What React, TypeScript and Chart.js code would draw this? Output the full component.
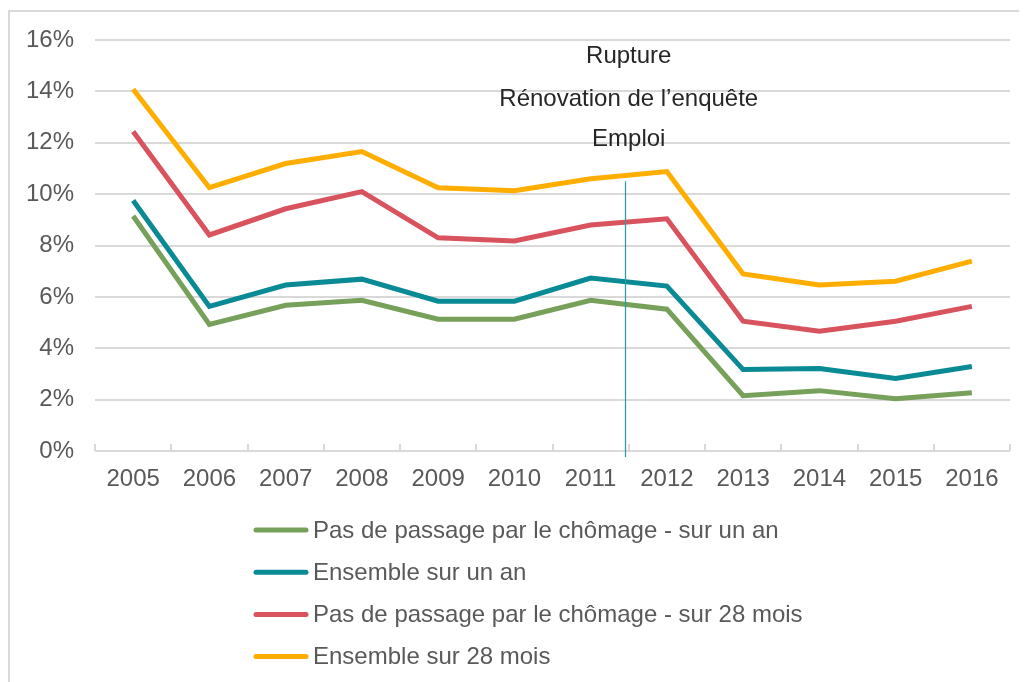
import React, { useEffect, useRef } from 'react';
import { Chart, registerables } from 'chart.js';

Chart.register(...registerables);

const years = ['2005', '2006', '2007', '2008', '2009', '2010', '2011', '2012', '2013', '2014', '2015', '2016'];
const pasChomageUnAn = [9.15, 4.93, 5.67, 5.87, 5.13, 5.13, 5.87, 5.52, 2.15, 2.35, 2.03, 2.27];
const ensembleUnAn = [9.75, 5.63, 6.46, 6.69, 5.83, 5.83, 6.73, 6.42, 3.17, 3.21, 2.82, 3.29];
const pasChomage28 = [12.44, 8.41, 9.43, 10.1, 8.3, 8.18, 8.8, 9.04, 5.05, 4.66, 5.05, 5.63];
const ensemble28 = [14.08, 10.25, 11.19, 11.66, 10.25, 10.13, 10.6, 10.88, 6.89, 6.46, 6.61, 7.39];

const seriesLabels = [
  'Pas de passage par le chômage - sur un an',
  'Ensemble sur un an',
  'Pas de passage par le chômage - sur 28 mois',
  'Ensemble sur 28 mois',
];
const seriesColors = ['#77A05A', '#0A8A94', '#D9535F', '#FFAE00'];

const annotationLines = ['Rupture', 'Rénovation de l’enquête', 'Emploi'];
const annotationValues = [15.35, 13.7, 12.15];
const annotationIndex = 6.5;
const ruptureIndex = 6.45;
const ruptureTop = 10.5;

const FONT = '"Liberation Sans", Arial, sans-serif';
const FONT_SIZE = 24;
const AXIS_COLOR = '#595959';
const GRID_COLOR = '#d9d9d9';

const overlayPlugin = {
  id: 'overlay',
  afterDraw(chart: any) {
    const ctx = chart.ctx;
    const xs = chart.scales.x;
    const ys = chart.scales.y;
    const area = chart.chartArea;
    ctx.save();
    // tick marks pointing up into the plot
    ctx.strokeStyle = GRID_COLOR;
    ctx.lineWidth = 2;
    for (let i = 0; i <= years.length; i++) {
      const x = Math.round(xs.getPixelForValue(i - 0.5));
      ctx.beginPath();
      ctx.moveTo(x, area.bottom);
      ctx.lineTo(x, area.bottom - 7);
      ctx.stroke();
    }
    // rupture line
    const rx = Math.round(xs.getPixelForValue(ruptureIndex)) + 0.5;
    ctx.strokeStyle = '#2A9BA0';
    ctx.lineWidth = 1.25;
    ctx.beginPath();
    ctx.moveTo(rx, ys.getPixelForValue(ruptureTop));
    ctx.lineTo(rx, area.bottom + 6);
    ctx.stroke();
    // annotation text
    ctx.fillStyle = '#262626';
    ctx.font = `${FONT_SIZE}px ${FONT}`;
    ctx.textAlign = 'center';
    ctx.textBaseline = 'middle';
    const ax = xs.getPixelForValue(annotationIndex);
    annotationLines.forEach((t, i) => {
      ctx.fillText(t, ax, ys.getPixelForValue(annotationValues[i]));
    });
    // legend
    const lx = 243;
    const ly = area.bottom + 79;
    ctx.textAlign = 'left';
    chart.data.datasets.forEach((ds: any, i: number) => {
      const y = ly + i * 42.2;
      ctx.strokeStyle = ds.borderColor;
      ctx.lineWidth = 5;
      ctx.lineCap = 'round';
      ctx.beginPath();
      ctx.moveTo(lx + 3, y);
      ctx.lineTo(lx + 53, y);
      ctx.stroke();
      ctx.fillStyle = AXIS_COLOR;
      ctx.fillText(ds.label, lx + 60, y + 1);
    });
    ctx.restore();
  },
};

export default function App() {
  const ref = useRef<HTMLCanvasElement>(null);
  useEffect(() => {
    if (!ref.current) return;
    const data = [pasChomageUnAn, ensembleUnAn, pasChomage28, ensemble28];
    const chart = new Chart(ref.current, {
      type: 'line',
      data: {
        labels: years,
        datasets: data.map((d, i) => ({
          label: seriesLabels[i],
          data: d,
          borderColor: seriesColors[i],
          backgroundColor: seriesColors[i],
          borderWidth: 5,
          pointRadius: 0,
          tension: 0,
          fill: false,
        })),
      },
      options: {
        animation: false,
        responsive: false,
        maintainAspectRatio: false,
        layout: { padding: { left: 0, top: 28, right: 17, bottom: 191 } },
        plugins: { legend: { display: false }, tooltip: { enabled: false } },
        scales: {
          x: {
            offset: true,
            grid: { display: false, drawTicks: false },
            border: { display: false },
            ticks: { color: AXIS_COLOR, font: { family: FONT, size: FONT_SIZE }, padding: 14, maxRotation: 0 },
            afterFit(scale: any) { scale.height = 40; },
          },
          y: {
            min: 0,
            max: 16,
            grid: { color: GRID_COLOR, lineWidth: 2, drawTicks: false },
            border: { display: false },
            ticks: {
              stepSize: 2,
              color: AXIS_COLOR,
              font: { family: FONT, size: FONT_SIZE },
              padding: 21,
              callback: (v: any) => `${v}%`,
            },
            afterFit(scale: any) {
              scale.width = 85;
              scale.paddingTop = 14;
              scale.paddingBottom = 14;
            },
          },
        },
      },
      plugins: [overlayPlugin],
    });
    return () => chart.destroy();
  }, []);
  return (
    <div
      style={{
        marginTop: 2,
        borderTop: '2px solid #d9d9d9',
        borderLeft: '2px solid #d9d9d9',
        width: 1019,
        height: 672,
        boxSizing: 'border-box',
        overflow: 'hidden',
      }}
    >
      <canvas ref={ref} width={1017} height={670} style={{ display: 'block' }} />
    </div>
  );
}
